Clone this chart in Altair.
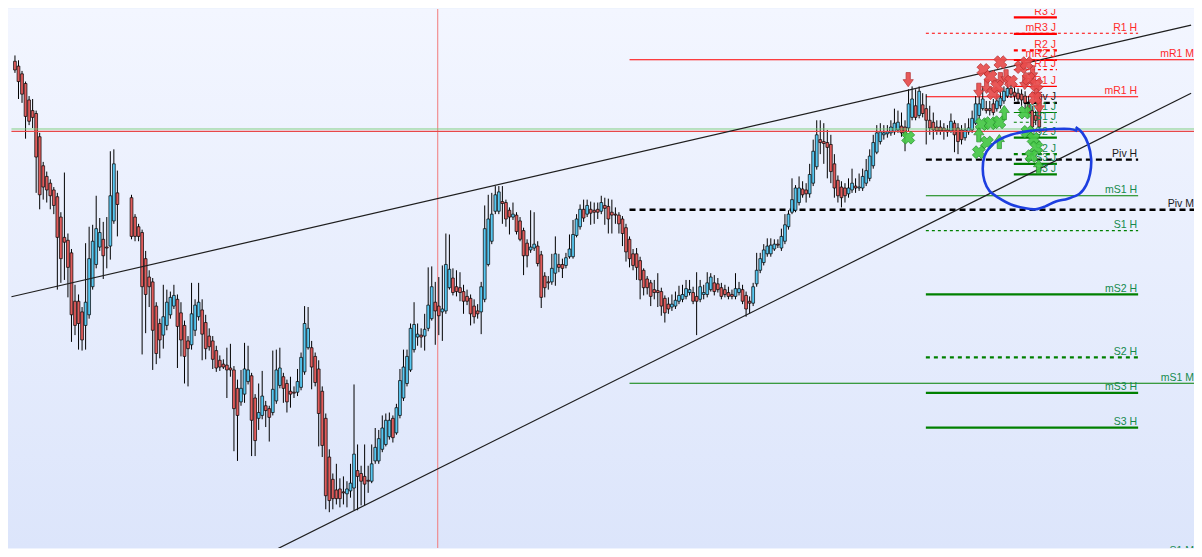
import altair as alt
import pandas as pd

# ---------------- candles (bar index, OHLC) ----------------
bar_open = [
    946, 941, 933, 923, 906, 895, 892, 868, 838, 827,
    820, 813, 806, 785, 764, 761, 748, 698, 698, 687,
    673, 684, 713, 736, 754, 762, 754, 755, 781, 810,
    805, 785, 775, 769, 742, 723, 718, 693, 675, 663,
    673, 684, 693, 700, 686, 673, 657, 653, 668, 682,
    689, 676, 662, 657, 647, 637, 633, 632, 629, 627,
    608, 594, 602, 615, 621, 598, 577, 580, 590, 587,
    583, 595, 611, 620, 613, 605, 604, 604, 609, 625,
    650, 650, 641, 628, 605, 577, 537, 514, 503, 504,
    501, 499, 502, 505, 523, 520, 517, 513, 512, 533,
    533, 545, 550, 558, 577, 562, 580, 598, 613, 627,
    648, 661, 663, 662, 670, 680, 697, 693, 687, 688,
    712, 722, 713, 712, 708, 703, 701, 693, 688, 687,
    700, 736, 760, 791, 791, 801, 800, 792, 785, 787,
    781, 771, 758, 751, 753, 755, 746, 724, 718, 718,
    727, 736, 736, 735, 744, 744, 766, 775, 793, 788,
    793, 792, 793, 791, 797, 796, 790, 788, 787, 783,
    774, 762, 747, 747, 740, 730, 721, 717, 710, 709,
    708, 701, 695, 692, 693, 698, 700, 703, 707, 707,
    703, 700, 705, 705, 710, 717, 716, 712, 710, 707,
    705, 703, 707, 710, 704, 698, 696, 716, 730, 738,
    747, 747, 752, 757, 753, 760, 775, 790, 792, 800,
    814, 813, 809, 820, 837, 865, 863, 862, 860, 840,
    823, 816, 815, 809, 813, 817, 815, 815, 820, 825,
    838, 852, 863, 870, 871, 872, 873, 875, 879, 878,
    877, 888, 900, 890, 901, 897, 885, 883, 878, 878,
    877, 875, 874, 882, 877, 875, 867, 873, 875, 882,
    890, 897, 897, 897, 902, 897, 900, 905, 910, 918,
    914, 913, 912, 910, 902, 895, 890, 905,
]
bar_high = [
    952, 947, 936, 925, 910, 907, 895, 872, 842, 832,
    824, 816, 810, 790, 831, 768, 752, 715, 705, 692,
    758, 775, 777, 807, 784, 780, 785, 853, 855, 833,
    808, 788, 778, 772, 750, 730, 722, 697, 680, 715,
    710, 708, 715, 705, 697, 678, 662, 717, 700, 717,
    700, 684, 670, 662, 652, 642, 638, 650, 654, 631,
    617, 627, 655, 652, 624, 602, 613, 626, 595, 590,
    647, 648, 650, 624, 617, 620, 610, 628, 645, 693,
    692, 657, 645, 637, 610, 582, 545, 520, 530, 515,
    517, 512, 530, 612, 550, 528, 550, 528, 550, 567,
    565, 580, 582, 583, 580, 592, 628, 648, 648, 675,
    697, 675, 670, 685, 733, 734, 718, 723, 735, 768,
    767, 732, 730, 728, 715, 710, 705, 700, 695, 718,
    797, 808, 810, 817, 817, 817, 803, 795, 800, 790,
    785, 774, 762, 792, 790, 760, 750, 728, 724, 747,
    765, 747, 742, 748, 767, 782, 788, 798, 803, 803,
    801, 800, 800, 807, 805, 804, 803, 795, 790, 786,
    778, 765, 752, 753, 744, 732, 724, 720, 720, 727,
    712, 704, 702, 705, 708, 714, 715, 720, 720, 713,
    728, 720, 715, 728, 727, 725, 722, 717, 715, 713,
    710, 727, 718, 715, 708, 703, 717, 748, 748, 757,
    763, 763, 762, 762, 773, 788, 792, 825, 818, 827,
    822, 820, 840, 865, 885, 885, 882, 875, 870, 850,
    828, 822, 820, 825, 835, 825, 830, 835, 845, 855,
    870, 880, 882, 880, 880, 885, 897, 895, 893, 885,
    917, 920, 917, 920, 913, 912, 900, 893, 885, 885,
    882, 880, 892, 885, 882, 880, 882, 887, 895, 910,
    910, 920, 905, 905, 907, 912, 917, 920, 923, 922,
    920, 918, 917, 915, 910, 900, 895, 910,
]
bar_low = [
    934, 907, 903, 866, 880, 877, 810, 793, 803, 800,
    793, 788, 710, 717, 720, 702, 656, 663, 648, 647,
    648, 680, 710, 732, 750, 721, 732, 741, 778, 765,
    762, 760, 760, 643, 665, 692, 627, 633, 639, 649,
    668, 680, 690, 629, 641, 613, 610, 648, 662, 678,
    637, 638, 647, 628, 625, 626, 628, 598, 620, 543,
    533, 590, 593, 612, 538, 538, 565, 576, 568, 553,
    580, 592, 608, 593, 583, 588, 598, 600, 606, 622,
    648, 607, 610, 548, 537, 483, 480, 483, 488, 485,
    488, 485, 495, 482, 482, 487, 487, 500, 510, 530,
    530, 542, 548, 555, 552, 560, 577, 595, 610, 625,
    645, 652, 650, 647, 667, 678, 653, 663, 657, 685,
    710, 704, 703, 698, 685, 694, 673, 675, 680, 664,
    697, 734, 757, 788, 788, 778, 775, 767, 782, 767,
    760, 725, 733, 748, 750, 734, 691, 702, 710, 715,
    714, 728, 722, 732, 742, 742, 764, 772, 780, 785,
    777, 778, 783, 788, 777, 768, 768, 778, 768, 755,
    739, 733, 730, 720, 700, 704, 705, 693, 700, 692,
    683, 676, 685, 688, 690, 695, 697, 700, 704, 695,
    663, 697, 700, 702, 708, 704, 707, 700, 702, 700,
    700, 700, 704, 695, 682, 685, 693, 713, 727, 735,
    744, 744, 750, 753, 750, 757, 772, 788, 790, 797,
    805, 800, 805, 817, 834, 850, 840, 825, 820, 805,
    800, 795, 800, 805, 810, 810, 812, 812, 817, 822,
    835, 850, 860, 865, 867, 869, 870, 872, 868, 853,
    874, 885, 885, 887, 888, 860, 870, 865, 870, 870,
    865, 868, 872, 852, 850, 860, 864, 870, 872, 880,
    887, 895, 892, 890, 890, 894, 897, 902, 908, 908,
    905, 903, 900, 893, 888, 873, 880, 872,
]
bar_close = [
    937, 925, 912, 889, 884, 888, 847, 808, 816, 813,
    807, 797, 764, 742, 759, 733, 684, 673, 675, 658,
    697, 742, 760, 773, 769, 745, 753, 807, 840, 798,
    765, 765, 765, 713, 705, 713, 668, 644, 658, 682,
    697, 702, 704, 672, 658, 641, 649, 685, 694, 697,
    664, 649, 651, 638, 629, 630, 630, 627, 627, 587,
    580, 608, 628, 627, 575, 554, 583, 600, 585, 578,
    607, 627, 629, 608, 594, 602, 603, 615, 640, 675,
    670, 630, 614, 582, 549, 497, 492, 494, 494, 494,
    500, 504, 510, 540, 517, 512, 509, 512, 530, 547,
    556, 567, 575, 575, 557, 588, 616, 630, 641, 670,
    674, 664, 661, 669, 694, 713, 688, 683, 690, 736,
    731, 707, 708, 707, 698, 698, 685, 682, 685, 713,
    773, 783, 788, 808, 811, 799, 783, 785, 788, 770,
    762, 745, 745, 754, 757, 737, 702, 712, 717, 732,
    747, 733, 732, 743, 752, 767, 783, 793, 784, 797,
    789, 790, 790, 800, 794, 783, 787, 787, 778, 768,
    749, 742, 735, 733, 720, 712, 712, 703, 707, 707,
    693, 686, 690, 695, 699, 704, 705, 711, 710, 698,
    698, 713, 707, 717, 723, 708, 710, 703, 705, 703,
    703, 711, 711, 698, 690, 696, 713, 730, 742, 751,
    755, 756, 757, 756, 765, 777, 788, 803, 815, 815,
    808, 809, 829, 853, 870, 862, 861, 857, 832, 815,
    807, 805, 807, 815, 820, 815, 816, 827, 833, 848,
    862, 872, 873, 872, 873, 878, 882, 883, 872, 870,
    902, 907, 888, 915, 892, 885, 877, 875, 874, 874,
    874, 873, 884, 870, 863, 865, 875, 877, 887, 902,
    902, 907, 895, 895, 893, 905, 908, 915, 918, 912,
    910, 907, 906, 903, 892, 878, 885, 878,
]
# bar slots: the market was closed for three bars after the 30th bar
bar_time = list(range(0, 30)) + list(range(33, 291))

# ---------------- pivot levels ----------------
level_names = [
    "R3 J", "mR3 J", "R2 J", "mR2 J", "R1 J", "mR1 J", "Piv J",
    "mS1 J", "S1 J", "mS2 J", "S2 J", "mS3 J", "S3 J",
    "R1 H", "mR1 H", "Piv H", "mS1 H", "S1 H", "mS2 H", "S2 H", "mS3 H", "S3 H",
    "mR1 M", "Piv M", "mS1 M", "S1 M",
]
level_prices = [
    991.3, 974.3, 957.3, 947.3, 937.3, 920.0, 903.0,
    893.0, 883.0, 867.0, 850.0, 840.0, 829.0,
    975.0, 909.3, 844.3, 807.0, 771.0, 705.0, 640.0, 603.3, 567.3,
    947.5, 792.5, 613.3, 434.5,
]
period_start = {"J": 282.8, "H": 257.9, "M": 174.0}
period_end = {"J": 295.0, "H": 318.0, "M": 334.1}

# horizontal reference lines across the chart, vertical time marker
hline_prices = [876.0, 873.6]
hline_kind = ["green", "red"]
vline_time = [119.7]

# trend lines (two anchors each)
trend_id = ["upper", "upper", "lower", "lower"]
trend_time = [-1.0, 333.0, 70.0, 333.0]
trend_price = [702.6, 983.4, 434.3, 913.0]

# signal markers
sig_time = [252.9, 272.9, 275.1, 279.0, 280.6, 285.9, 288.1, 289.2, 290.0,
            274.2, 276.2, 279.0, 277.0, 278.1, 282.0, 284.8, 286.4, 287.0, 289.2, 288.9,
            252.9, 273.7, 276.2, 278.7, 275.2, 272.9, 285.9, 286.7, 288.4, 289.2, 287.8,
            272.9, 278.7, 280.1, 289.8]
sig_price = [927, 916, 920, 927, 930, 924, 934, 914, 900,
             937, 930, 945, 913, 920, 925, 940, 944, 928, 922, 908,
             867, 881, 882, 883, 862, 852, 893, 873, 866, 857, 848,
             870, 863, 893, 837]
sig_kind = (["sell_arrow"] * 9 + ["sell_x"] * 11 + ["buy_x"] * 11 + ["buy_arrow"] * 4)

# hand-drawn ellipse annotation
ell_time = [300.3, 302.2, 303.9, 304.7, 304.4, 303.3, 301.4, 298.1, 294.7, 291.7, 288.9,
            286.1, 282.0, 278.4, 275.9, 274.5, 274.0, 274.5, 276.2, 278.7, 282.0, 285.6,
            289.8, 294.5, 298.6, 300.8]
ell_price = [878, 872, 860, 845, 830, 818, 809, 804, 801, 796, 793,
             794, 798, 805, 812, 822, 835, 848, 858, 865, 870, 873,
             875, 876, 876, 874]

# ---------------- build tables ----------------
UP_FILL, DOWN_FILL = "#58c8f2", "#e05c5c"
candles = pd.DataFrame({"t": bar_time, "open": bar_open, "high": bar_high,
                        "low": bar_low, "close": bar_close})
candles["fill"] = [UP_FILL if c >= o else DOWN_FILL for o, c in zip(bar_open, bar_close)]


def level_style(name):
    base = name.split()[0]
    if base == "Piv":
        return "piv"
    num = base[-1]
    if base.startswith("m"):
        return "solid_thin" if num == "1" else "solid_thick"
    if num == "1":
        return "dash_thin"
    if num == "2":
        return "dash_thick"
    return "solid_thick"


RED, GREEN, BLACK = "#ff0000", "#008000", "#000000"
levels = pd.DataFrame({"name": level_names, "price": level_prices})
levels["period"] = [n.split()[1] for n in level_names]
levels["t0"] = [period_start[p] for p in levels["period"]]
levels["t1"] = [period_end[p] for p in levels["period"]]
levels["style"] = [level_style(n) for n in level_names]
levels["color"] = [BLACK if n.startswith("Piv") else (RED if "R" in n.split()[0] else GREEN)
                   for n in level_names]
levels["tcolor"] = [("#1a1a1a" if c == BLACK else ("#ff2a2a" if c == RED else "#148a4c"))
                    for c in levels["color"]]

hline_colors = {"green": "#78cc78", "red": "#e84848"}
hline_widths = {"green": 0.9, "red": 1.3}
hlines = pd.DataFrame({"price": hline_prices, "t0": -1.0, "t1": 334.0})
hlines["color"] = [hline_colors[k] for k in hline_kind]
hlines["w"] = [hline_widths[k] for k in hline_kind]
vlines = pd.DataFrame({"t": vline_time})
trends = pd.DataFrame({"id": trend_id, "t": trend_time, "price": trend_price})
signals = pd.DataFrame({"t": sig_time, "price": sig_price, "kind": sig_kind})
ellipse = pd.DataFrame({"t": ell_time, "price": ell_price, "seq": list(range(len(ell_time)))})

xs = alt.Scale(domain=[-0.554, 332.4], nice=False, zero=False)
ys = alt.Scale(domain=[443, 1000], nice=False, zero=False)


def X(f):
    return alt.X(f, type="quantitative", scale=xs, axis=None)


def Y(f):
    return alt.Y(f, type="quantitative", scale=ys, axis=None)


bg = alt.Chart(pd.DataFrame({"a": [0]})).mark_rect(
    color=alt.Gradient(gradient="linear", x1=0, x2=0, y1=0, y2=1,
                       stops=[alt.GradientStop(color="#f3f6ff", offset=0),
                              alt.GradientStop(color="#dce5fb", offset=1)])
).encode(x=alt.value(0), x2=alt.value("width"), y=alt.value(0), y2=alt.value("height"))

style_spec = {
    "solid_thin": dict(strokeWidth=1.1),
    "solid_thick": dict(strokeWidth=2.2),
    "dash_thin": dict(strokeWidth=1.1, strokeDash=[3, 3]),
    "dash_thick": dict(strokeWidth=2.2, strokeDash=[4, 4]),
    "piv": dict(strokeWidth=2.4, strokeDash=[6, 4]),
}
level_layers = []
for st, spec in style_spec.items():
    level_layers.append(
        alt.Chart(levels).transform_filter(alt.datum.style == st)
        .mark_rule(clip=True, **spec)
        .encode(x=X("t0"), x2="t1", y=Y("price"), color=alt.Color("color:N", scale=None))
    )

level_text = alt.Chart(levels).mark_text(
    align="right", baseline="alphabetic", dy=-2.5, dx=-1, font="Liberation Sans",
    fontSize=10.5, clip=True
).encode(x=X("t1"), y=Y("price"), text="name:N", color=alt.Color("tcolor:N", scale=None))

vline = alt.Chart(vlines).mark_rule(color="#f27a7a", strokeWidth=1).encode(x=X("t"))

hline = alt.Chart(hlines).mark_rule(clip=True).encode(
    x=X("t0"), x2="t1", y=Y("price"), color=alt.Color("color:N", scale=None),
    strokeWidth=alt.StrokeWidth("w:Q", scale=None))

trend = alt.Chart(trends).mark_line(color="#1e1e1e", strokeWidth=1.2, clip=True).encode(
    x=X("t"), y=Y("price"), detail="id:N")

wicks = alt.Chart(candles).mark_rule(color="#000000", strokeWidth=1, clip=True).encode(
    x=X("t"), y=Y("low"), y2="high")
bodies = alt.Chart(candles).mark_bar(size=2.8, stroke="#000000", strokeWidth=0.7, clip=True).encode(
    x=X("t"), y=Y("open"), y2="close", color=alt.Color("fill:N", scale=None))

down_arrow = "M-0.3,-1L0.3,-1L0.3,0L0.72,0L0,1L-0.72,0L-0.3,0Z"
up_arrow = "M-0.3,1L0.3,1L0.3,0L0.72,0L0,-1L-0.72,0L-0.3,0Z"

sell_x = alt.Chart(signals).transform_filter(alt.datum.kind == "sell_x").mark_point(
    shape="cross", angle=45, filled=True, size=170, color="#e84c4c", stroke="#b83030",
    strokeWidth=0.8, opacity=0.92).encode(x=X("t"), y=Y("price"))
buy_x = alt.Chart(signals).transform_filter(alt.datum.kind == "buy_x").mark_point(
    shape="cross", angle=45, filled=True, size=170, color="#46c846", stroke="#24902a",
    strokeWidth=0.8, opacity=0.92).encode(x=X("t"), y=Y("price"))
sell_ar = alt.Chart(signals).transform_filter(alt.datum.kind == "sell_arrow").mark_point(
    shape=down_arrow, filled=True, size=200, color="#e84c4c", stroke="#b83030",
    strokeWidth=0.8, opacity=0.92).encode(x=X("t"), y=Y("price"))
buy_ar = alt.Chart(signals).transform_filter(alt.datum.kind == "buy_arrow").mark_point(
    shape=up_arrow, filled=True, size=200, color="#46c846", stroke="#24902a",
    strokeWidth=0.8, opacity=0.92).encode(x=X("t"), y=Y("price"))

ell = alt.Chart(ellipse).mark_line(color="#1c3ee0", strokeWidth=2.6, interpolate="cardinal").encode(
    x=X("t"), y=Y("price"), order="seq:Q")

chart = alt.layer(
    bg, *level_layers, vline, wicks, bodies, hline, trend, level_text,
    sell_ar, sell_x, buy_x, buy_ar, ell
).properties(
    width=1186, height=541,
    autosize=alt.AutoSizeParams(type="fit", contains="padding"),
    padding=0, background="#eef3fe"
).configure_view(stroke=None)

chart.save("out.html", embed_options={"renderer": "svg", "actions": False})
